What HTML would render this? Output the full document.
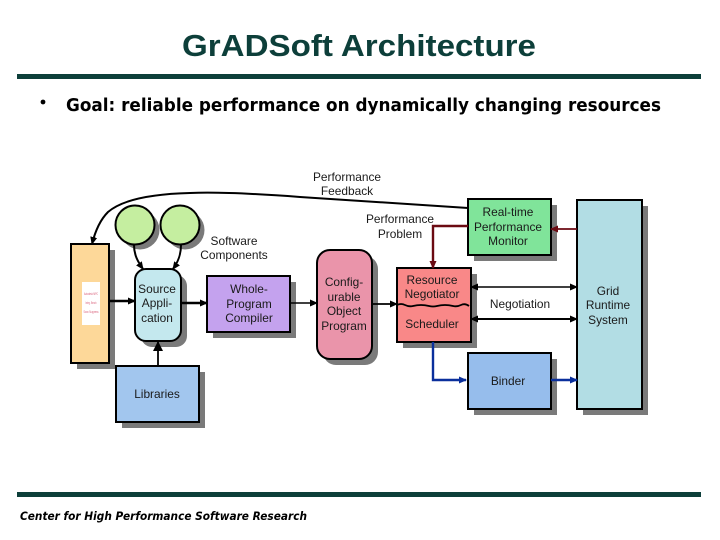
<!DOCTYPE html>
<html><head><meta charset="utf-8"><style>html,body{margin:0;padding:0;background:#fff}svg{display:block}
text{font-family:"Liberation Sans",sans-serif;font-size:11.9px;fill:#1a1a1a;text-anchor:middle}</style></head>
<body>
<svg width="720" height="540" viewBox="0 0 720 540" xmlns="http://www.w3.org/2000/svg">
<defs>
<marker id="a" markerWidth="8" markerHeight="8" refX="7" refY="4" orient="auto-start-reverse" markerUnits="userSpaceOnUse"><path d="M0 0.5L8 4L0 7.5Z" fill="#000"/></marker>
<marker id="b" markerWidth="8" markerHeight="8" refX="7" refY="4" orient="auto-start-reverse" markerUnits="userSpaceOnUse"><path d="M0 0.5L8 4L0 7.5Z" fill="#0a2f9c"/></marker>
<marker id="r" markerWidth="8" markerHeight="8" refX="7" refY="4" orient="auto-start-reverse" markerUnits="userSpaceOnUse"><path d="M0 0.5L8 4L0 7.5Z" fill="#6b0a12"/></marker>
<marker id="big" markerWidth="10" markerHeight="12" refX="9" refY="5" orient="auto" markerUnits="userSpaceOnUse"><path d="M0 0L10 5L0 10Z" fill="#000"/></marker>
</defs>
<rect width="720" height="540" fill="#fff"/>
<text x="359" y="56" style="font-size:31px;font-weight:bold;fill:#0d3f3a" textLength="354" lengthAdjust="spacingAndGlyphs">GrADSoft Architecture</text>
<rect x="17" y="74" width="684" height="5" fill="#0d3f3a"/>
<rect x="17" y="492" width="684" height="5" fill="#0d3f3a"/>
<circle cx="43" cy="102" r="2.4" fill="#000"/>
<text x="66" y="111" style="font-family:'DejaVu Sans',sans-serif;font-size:18px;font-weight:bold;text-anchor:start;fill:#000" textLength="595" lengthAdjust="spacingAndGlyphs">Goal: reliable performance on dynamically changing resources</text>
<text x="20" y="520" style="font-family:'DejaVu Sans',sans-serif;font-size:11.5px;font-style:italic;font-weight:bold;text-anchor:start;fill:#000" textLength="287" lengthAdjust="spacingAndGlyphs">Center for High Performance Software Research</text>

<!-- shadows -->
<g fill="#7a7a7a">
<rect x="77" y="250" width="38" height="119"/>
<circle cx="140" cy="230" r="19.5"/>
<circle cx="185" cy="230" r="19.5"/>
<rect x="141" y="275" width="46" height="72" rx="11"/>
<rect x="213" y="282" width="83" height="56"/>
<rect x="122" y="372" width="83" height="56"/>
<rect x="323" y="256" width="55" height="109" rx="13"/>
<rect x="403" y="274" width="74" height="74"/>
<rect x="474" y="205" width="83" height="56"/>
<rect x="474" y="359" width="83" height="56"/>
<rect x="583" y="206" width="65" height="209"/>
</g>

<!-- shapes -->
<g stroke="#000" stroke-width="2">
<rect x="71" y="244" width="38" height="119" fill="#fdd899"/>
<circle cx="135" cy="225" r="19.5" fill="#c5eea0"/>
<circle cx="180" cy="225" r="19.5" fill="#c5eea0"/>
<rect x="135" y="269" width="46" height="72" rx="11" fill="#c4e8ee"/>
<rect x="207" y="276" width="83" height="56" fill="#c4a2ee"/>
<rect x="116" y="366" width="83" height="56" fill="#a2c6ee"/>
<rect x="317" y="250" width="55" height="109" rx="13" fill="#ea94aa"/>
<rect x="397" y="268" width="74" height="74" fill="#f98888"/>
<rect x="468" y="199" width="83" height="56" fill="#80e49a"/>
<rect x="468" y="353" width="83" height="56" fill="#96bdec"/>
<rect x="577" y="200" width="65" height="209" fill="#b2dde4"/>
</g>
<rect x="82" y="282" width="18" height="43" fill="#fff"/>
<text x="91" y="295" style="font-size:4px;fill:#d9607a" textLength="14" lengthAdjust="spacingAndGlyphs">Autodesk MPC</text>
<text x="91" y="304" style="font-size:4px;fill:#d9607a" textLength="11" lengthAdjust="spacingAndGlyphs">Integ. Bench</text>
<text x="91" y="313" style="font-size:4px;fill:#d9607a" textLength="15" lengthAdjust="spacingAndGlyphs">Scan Suppress</text>

<!-- connectors -->
<g fill="none" stroke="#000">
<path d="M468 208L300 197C260 194 215 192 190 193C150 194 122 200 108 212C100 220 95 232 92 244" stroke-width="2" marker-end="url(#a)"/>
<path d="M134 245C134 255 138 262 143 269" stroke-width="2" marker-end="url(#a)"/>
<path d="M181 245C181 255 178 262 173 269" stroke-width="2" marker-end="url(#a)"/>
<path d="M109 301H135" stroke-width="2.4" marker-end="url(#a)"/>
<path d="M181 303H207" stroke-width="2.4" marker-end="url(#a)"/>
<path d="M158 366V342" stroke-width="1.8" marker-end="url(#big)"/>
<path d="M290 303H317" stroke-width="1.6" marker-end="url(#a)"/>
<path d="M372 304H397" stroke-width="1.8" marker-end="url(#a)"/>
<path d="M471 287H577" stroke-width="1.6" marker-start="url(#a)" marker-end="url(#a)"/>
<path d="M471 319H577" stroke-width="2" marker-start="url(#a)" marker-end="url(#a)"/>
<path d="M397 305q4 -2 8 0t8 1t8 -1t8 1t8 0t8 -1t8 1t8 -1t8 1" stroke-width="1.8"/>
</g>
<path d="M468 226H433V268" fill="none" stroke="#6b0a12" stroke-width="2.4" marker-end="url(#r)"/>
<path d="M577 229H551" fill="none" stroke="#6b0a12" stroke-width="1.8" marker-end="url(#r)"/>
<path d="M433 342V380H466" fill="none" stroke="#0a2f9c" stroke-width="2.4" marker-end="url(#b)"/>
<path d="M551 380H577" fill="none" stroke="#0a2f9c" stroke-width="2.6" marker-end="url(#b)"/>

<!-- labels -->
<text x="347" y="181">Performance</text><text x="347" y="195">Feedback</text>
<text x="400" y="223">Performance</text><text x="400" y="238">Problem</text>
<text x="234" y="245">Software</text><text x="234" y="259">Components</text>
<text x="157" y="293">Source</text><text x="157" y="307">Appli-</text><text x="157" y="322">cation</text>
<text x="249" y="293">Whole-</text><text x="249" y="308">Program</text><text x="249" y="322">Compiler</text>
<text x="157" y="398">Libraries</text>
<text x="344" y="286">Config-</text><text x="344" y="301">urable</text><text x="344" y="315">Object</text><text x="344" y="330">Program</text>
<text x="432" y="284">Resource</text><text x="432" y="298">Negotiator</text><text x="432" y="328">Scheduler</text>
<text x="508" y="216">Real-time</text><text x="508" y="231">Performance</text><text x="508" y="245">Monitor</text>
<text x="520" y="308">Negotiation</text>
<text x="508" y="385">Binder</text>
<text x="608" y="295">Grid</text><text x="608" y="309">Runtime</text><text x="608" y="324">System</text>
</svg>
</body></html>
